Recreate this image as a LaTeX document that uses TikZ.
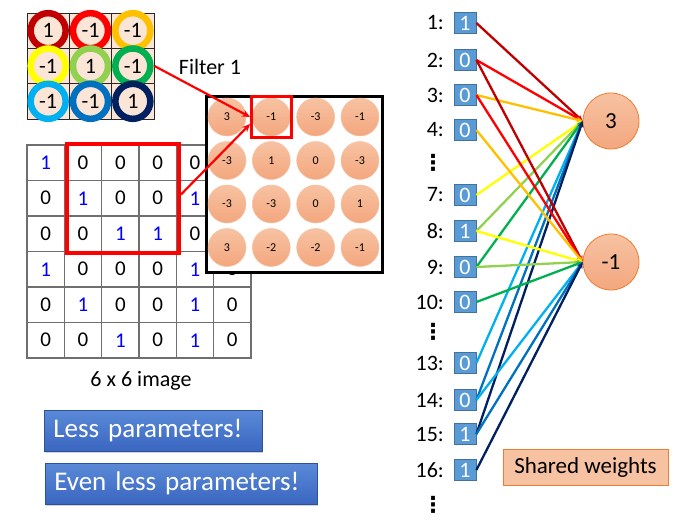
\documentclass[tikz,border=0pt]{standalone}
\usepackage{fontspec}
\setmainfont{Carlito}
\newfontfamily\dejavu{DejaVu Sans}
\usetikzlibrary{arrows.meta,calc,shadows}
\definecolor{peach}{HTML}{FBE5D6}
\definecolor{cA}{HTML}{C00000}
\definecolor{cB}{HTML}{FF0000}
\definecolor{cC}{HTML}{FFC000}
\definecolor{cD}{HTML}{FFFF00}
\definecolor{cE}{HTML}{92D050}
\definecolor{cF}{HTML}{00B050}
\definecolor{cG}{HTML}{00B0F0}
\definecolor{cH}{HTML}{0070C0}
\definecolor{cI}{HTML}{002060}
\definecolor{salTop}{HTML}{F7C2A2}
\definecolor{salBot}{HTML}{F3A77E}
\definecolor{salEdge}{HTML}{ED7D31}
\definecolor{boxBlue}{HTML}{5B9BD5}
\definecolor{boxEdge}{HTML}{41719C}
\definecolor{btnTop}{HTML}{5B8AD8}
\definecolor{btnBot}{HTML}{3A66C0}
\definecolor{gridGray}{HTML}{6F6F6F}
\definecolor{numBlue}{HTML}{0000FF}
\newcommand\fsz[1]{\fontsize{#1}{#1}\selectfont}
\begin{document}
\begin{tikzpicture}[x=1pt,y=-1pt,
  fcell/.style={draw=black!85, line width=0.9pt, fill=peach, minimum width=42.3pt, minimum height=35.3pt, inner sep=0pt},
  ring/.style={circle, draw=#1, line width=6.5pt, minimum size=35pt, inner sep=0pt, font=\fsz{22}},
  icell/.style={draw=gridGray, line width=1.3pt, minimum width=37.33pt, minimum height=35.5pt, inner sep=0pt, font=\fsz{21}},
  fcirc/.style={circle, shading=axis, top color=salTop, bottom color=salBot, draw=salTop, line width=0.5pt, minimum size=38pt, inner sep=0pt, font=\fsz{12}},
  redarrow/.style={draw=red, line width=2.2pt, -{Stealth[length=8pt,width=7pt]}},
  lbl/.style={anchor=east, inner sep=0pt, font=\fsz{22}},
  inbox/.style={draw=boxEdge, line width=0.8pt, fill=boxBlue, text=white, minimum width=22pt, minimum height=21pt, inner sep=0pt, font=\fsz{22}},
  conn/.style={line width=2.3pt, -{Stealth[length=6pt,width=5.5pt]}},
  outc/.style={circle, shading=axis, top color=salTop, bottom color=salBot, draw=salEdge, line width=0.8pt, minimum size=56pt, inner sep=0pt, font=\fsz{23}},
  vdts/.style={inner sep=0pt, font=\dejavu\bfseries\fsz{22}},
  btn/.style={shading=axis, top color=btnTop, bottom color=btnBot, draw=btnBot!80!black, line width=0.6pt, text=white, font=\fsz{27}, inner xsep=9pt, minimum height=41pt, align=left, anchor=west, drop shadow={opacity=0.35, shadow xshift=1pt, shadow yshift=-1.5pt}}
]
\useasboundingbox (0,0) rectangle (695,522);

% ---------- filter ----------
\foreach \r/\c/\v/\col in {1/1/1/cA,1/2/-1/cB,1/3/-1/cC,2/1/-1/cD,2/2/1/cE,2/3/-1/cF,3/1/-1/cG,3/2/-1/cH,3/3/1/cI}{
  \node[fcell] (f\r\c) at ({27+42.33*(\c-0.5)},{13+35.33*(\r-0.5)}) {};
}
\foreach \r/\c/\v/\col in {1/1/1/cA,1/2/-1/cB,1/3/-1/cC,2/1/-1/cD,2/2/1/cE,2/3/-1/cF,3/1/-1/cG,3/2/-1/cH,3/3/1/cI}{
  \node[ring=\col] (r\r\c) at (f\r\c) {\v};
}
\node[font=\fsz{22}, inner sep=0pt] (flabel) at (210,67) {Filter 1};

% ---------- 6x6 image (cells hidden under the feature map left without text) ----------
\foreach \r/\row in {1/{1,0,0,0,0,x},2/{0,1,0,0,1,x},3/{0,0,1,1,0,x},4/{1,0,0,0,1,0},5/{0,1,0,0,1,0},6/{0,0,1,0,1,0}}{
  \foreach \v [count=\c] in \row {
    \node[icell] (i\r\c) at ({27+37.33*(\c-0.5)},{145+35.5*(\r-0.5)}) {\if x\v\else\if 1\v\color{numBlue}\fi\v\fi};
  }
}
\node[draw=red, line width=4pt, minimum width=112pt, minimum height=109pt, inner sep=0pt] (rbox) at (123,198.5) {};
\node[font=\fsz{22}, inner sep=0pt] (imglabel) at (141,381) {6 x 6 image};

% ---------- feature map ----------
\node[draw=black, line width=3pt, fill=white, minimum width=176pt, minimum height=176pt, inner sep=0pt] (fmap) at (294,184) {};
\foreach \r/\row in {1/{3,-1,-3,-1},2/{-3,1,0,-3},3/{-3,-3,0,1},4/{3,-2,-2,-1}}{
  \foreach \v [count=\c] in \row {
    \node[fcirc] (m\r\c) at ({227+44.33*(\c-1)},{117+43.5*(\r-1)}) {\v};
  }
}
\node[draw=red, line width=2.5pt, minimum width=40pt, minimum height=41pt, inner sep=0pt] (fsq) at (m12) {};

\draw[redarrow] (f23.east) -- (fsq.west);
\draw[redarrow] ([yshift=4pt]rbox.east) -- ([yshift=-7pt]fsq.west);

% ---------- right network ----------
\foreach \i/\y/\v in {1/23/1,2/60/0,3/95/0,4/130/0,7/195/0,8/231/1,9/267/0,10/302/0,13/363/0,14/400/0,15/434/1,16/470/1}{
  \node[lbl] (l\i) at (444,\y) {\i:};
  \node[inbox] (in\i) at (465,\y) {\v};
}
\node[vdts] (d1) at (433,163) {⋮};
\node[vdts] (d2) at (433,332) {⋮};
\node[vdts] (d3) at (433,505) {⋮};

\node[outc] (c3) at (611,121) {3};
\node[outc] (cm1) at (611,262) {-1};

\foreach \i/\col in {1/cA,2/cB,3/cC,7/cD,8/cE,9/cF,13/cG,14/cH,15/cI}{
  \draw[conn, draw=\col, \col] (in\i.east) -- (c3.west);
}
\foreach \i/\col in {2/cA,3/cB,4/cC,8/cD,9/cE,10/cF,14/cG,15/cH,16/cI}{
  \draw[conn, draw=\col, \col] (in\i.east) -- (cm1.west);
}

\node[fill=salTop, draw=salEdge, line width=0.8pt, minimum width=165pt, minimum height=36pt, inner sep=0pt, font=\fsz{23}] (shared) at (585.5,467) {Shared weights};

% ---------- buttons ----------
\node[btn, text width=200pt] (b1) at (44,430.5) {Less parameters!};
\node[btn, text width=254pt] (b2) at (45,483.5) {Even less parameters!};
\end{tikzpicture}
\end{document}
